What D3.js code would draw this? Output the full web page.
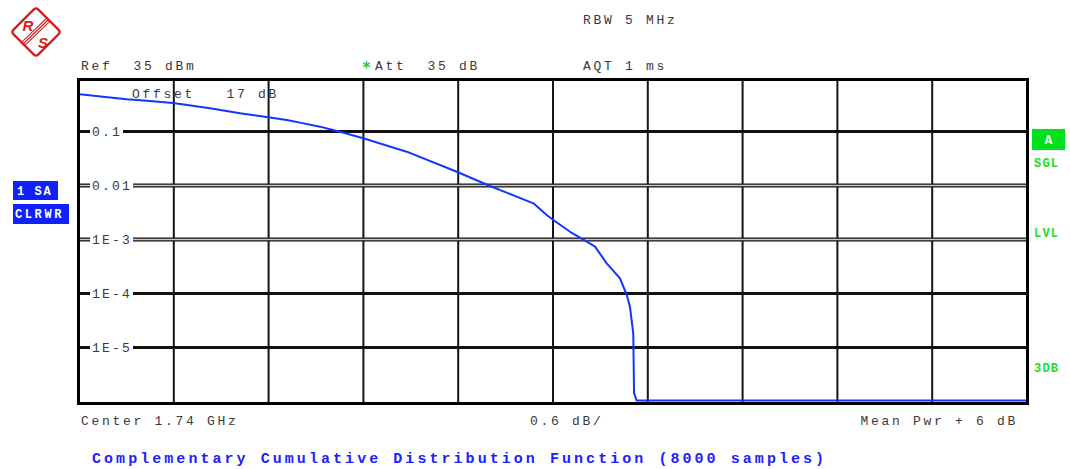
<!DOCTYPE html>
<html>
<head>
<meta charset="utf-8">
<script src="https://cdn.jsdelivr.net/npm/d3@7"></script>
<style>
  html, body { margin: 0; padding: 0; background: #fff; }
  svg { display: block; }
  text { white-space: pre; }
</style>
</head>
<body>
<svg id="chart" width="1070" height="469"></svg>
<script>
// ---- data ----
const powerAboveMeanDb = [0.006, 0.152, 0.302, 0.428, 0.595, 0.829, 1.019, 1.198, 1.315, 1.399, 1.525, 1.652, 1.799, 2.074, 2.391, 2.601, 2.876, 2.960, 3.002, 3.108, 3.214, 3.266, 3.340, 3.424, 3.467, 3.487, 3.508, 3.513, 3.530, 6.0];
const ccdfProbability = [0.489, 0.441, 0.395, 0.372, 0.337, 0.269, 0.217, 0.183, 0.163, 0.146, 0.123, 0.0991, 0.0748, 0.0423, 0.0180, 0.0098, 0.00468, 0.00284, 0.00230, 0.00139, 0.00091, 0.000736, 0.000362, 0.000191, 0.0000938, 0.0000570, 0.0000183, 0.00000144, 0.00000104, 0.00000104];
const yTickValues = [0.1, 0.01, 1e-3, 1e-4, 1e-5];
const yTickLabels = ["0.1", "0.01", "1E-3", "1E-4", "1E-5"];
const xDivisions = [0, 0.6, 1.2, 1.8, 2.4, 3.0, 3.6, 4.2, 4.8, 5.4, 6.0];
const headerRow1 = ["RBW 5 MHz"];
const headerRow2 = ["Ref  35 dBm", "Att  35 dB", "AQT 1 ms"];
const footerTexts = ["Center 1.74 GHz", "0.6 dB/", "Mean Pwr + 6 dB"];
const titleText = "Complementary Cumulative Distribution Function (8000 samples)";
const offsetText = "Offset   17 dB";
const leftLabels = ["1 SA", "CLRWR"];
const rightLabels = ["SGL", "LVL", "3DB"];

// ---- layout ----
const svg = d3.select("#chart");
const L = 79, R = 1027, T = 79.5, B = 403.5;
const x = d3.scaleLinear().domain([0, 6]).range([L, R]);
const y = d3.scaleLog().domain([1, 1e-6]).range([77.5, 401.5]);
const mono = "'Liberation Mono', 'DejaVu Sans Mono', monospace";
const txtCol = "#3a3a3a";

function monoText(g, str, px, py, opts = {}) {
  return g.append("text")
    .attr("x", px).attr("y", py)
    .attr("xml:space", "preserve")
    .attr("font-family", mono)
    .attr("font-size", opts.size || 13)
    .attr("font-weight", opts.weight || "normal")
    .attr("letter-spacing", opts.ls != null ? opts.ls : 2.7)
    .attr("fill", opts.fill || txtCol)
    .attr("text-anchor", opts.anchor || "start")
    .text(str);
}

// ---- logo ----
const red = "#d41a1a";
const logo = svg.append("g").attr("transform", "translate(36,32)");
logo.append("rect").attr("x", -17.5).attr("y", -17.5).attr("width", 35).attr("height", 35)
  .attr("rx", 3).attr("transform", "rotate(45)")
  .attr("fill", "#fff").attr("stroke", red).attr("stroke-width", 2.2);
[-2.2, 0, 2.2].forEach(o => {
  logo.append("line")
    .attr("x1", 12 + o * 0.7).attr("y1", -12 + o * 0.7)
    .attr("x2", -13 + o * 0.7).attr("y2", 12 + o * 0.7)
    .attr("stroke", red).attr("stroke-width", 1.1);
});
logo.append("text").attr("x", -8).attr("y", -1).attr("text-anchor", "middle")
  .attr("font-family", "'Liberation Sans', sans-serif").attr("font-style", "italic")
  .attr("font-weight", "bold").attr("font-size", 15).attr("fill", red).text("R");
logo.append("text").attr("x", 7).attr("y", 16).attr("text-anchor", "middle")
  .attr("font-family", "'Liberation Sans', sans-serif").attr("font-style", "italic")
  .attr("font-weight", "bold").attr("font-size", 15).attr("fill", red).text("S");

// ---- header texts ----
monoText(svg, headerRow1[0], 583, 24);
monoText(svg, headerRow2[0], 81, 69.5);
svg.append("text").attr("x", 366.5).attr("y", 73).attr("text-anchor", "middle")
  .attr("font-family", "'DejaVu Sans', sans-serif").attr("font-weight", "bold")
  .attr("font-size", 15).attr("fill", "#22cc22").text("*");
monoText(svg, headerRow2[1], 375, 69.5);
monoText(svg, headerRow2[2], 583, 69.5);

// ---- grid ----
const grid = svg.append("g");
grid.selectAll("line.v").data(xDivisions.slice(1, -1)).join("line")
  .attr("class", "v")
  .attr("x1", d => x(d)).attr("x2", d => x(d))
  .attr("y1", T).attr("y2", B)
  .attr("stroke", "#151515").attr("stroke-width", 2);

// horizontal lines with labels
const hg = grid.selectAll("g.h").data(yTickValues).join("g").attr("class", "h");
hg.each(function (d, i) {
  const g = d3.select(this);
  const yy = y(d);
  const lab = monoText(g, yTickLabels[i], 92, yy + 4.5, { ls: 2.2 });
  const endX = 92 + lab.node().getComputedTextLength() + 1;
  const dbl = (i === 1 || i === 2);
  const drawSeg = (x1, x2) => {
    g.append("line").attr("x1", x1).attr("x2", x2).attr("y1", yy).attr("y2", yy)
      .attr("stroke", "#111").attr("stroke-width", dbl ? 4 : 3);
    if (dbl) {
      g.append("line").attr("x1", x1).attr("x2", x2).attr("y1", yy).attr("y2", yy)
        .attr("stroke", "#c8c8c8").attr("stroke-width", 1.4);
    }
  };
  drawSeg(L, 90);
  drawSeg(endX, R);
});

// ---- trace ----
const pts = powerAboveMeanDb.map((v, i) => [v, ccdfProbability[i]]);
svg.append("path")
  .datum(pts)
  .attr("d", d3.line().x(d => x(d[0])).y(d => y(d[1])))
  .attr("fill", "none")
  .attr("stroke", "#1434ff")
  .attr("stroke-width", 2)
  .attr("stroke-linejoin", "round");

// offset label (over trace)
monoText(svg, offsetText, 132, 98);

// ---- frame ----
svg.append("rect").attr("x", 78.5).attr("y", T).attr("width", 949).attr("height", B - T)
  .attr("fill", "none").attr("stroke", "#000").attr("stroke-width", 3);

// ---- side labels ----
const blue = "#1020ff";
svg.append("rect").attr("x", 13).attr("y", 181).attr("width", 45).attr("height", 19).attr("fill", blue);
monoText(svg, leftLabels[0], 17, 195, { size: 12, weight: "bold", fill: "#fff", ls: 1.6 });
svg.append("rect").attr("x", 13).attr("y", 204).attr("width", 56).attr("height", 20).attr("fill", blue);
monoText(svg, leftLabels[1], 15, 218, { size: 12, weight: "bold", fill: "#fff", ls: 2.6 });

const green = "#22dd22";
svg.append("rect").attr("x", 1032).attr("y", 129).attr("width", 33).attr("height", 21).attr("fill", "#00e01c");
monoText(svg, "A", 1048.5, 144, { size: 13, weight: "bold", fill: "#fff", anchor: "middle", ls: 0 });
monoText(svg, rightLabels[0], 1034, 167, { size: 12, weight: "bold", fill: green, ls: 1.2 });
monoText(svg, rightLabels[1], 1034, 237, { size: 12, weight: "bold", fill: green, ls: 1.2 });
monoText(svg, rightLabels[2], 1034, 372, { size: 12, weight: "bold", fill: green, ls: 1.2 });

// ---- footer ----
monoText(svg, footerTexts[0], 81, 425);
monoText(svg, footerTexts[1], 530, 425);
monoText(svg, footerTexts[2], 1018, 425, { anchor: "end" });
monoText(svg, titleText, 92, 463, { size: 15, weight: "bold", fill: "#1a22ff", ls: 3.05 });
</script>
</body>
</html>
